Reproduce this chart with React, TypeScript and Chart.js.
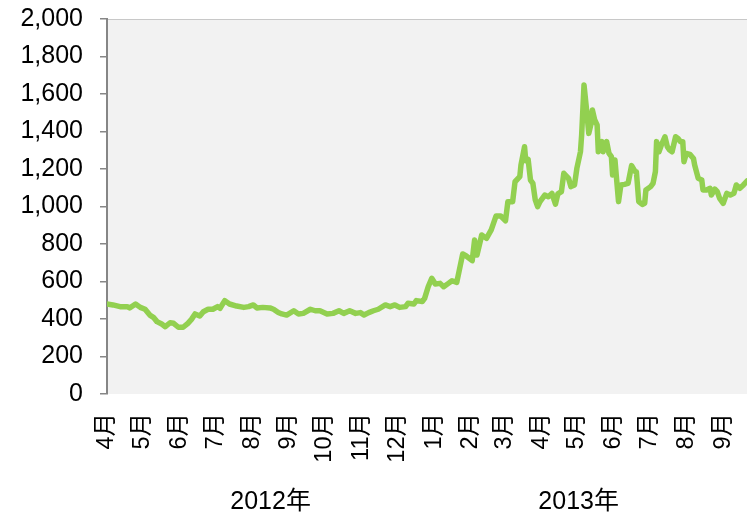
import React, { useEffect, useRef } from "react";
import { Chart, registerables } from "chart.js";

Chart.register(...registerables);

// Day offsets counted from 2012-04-01
const days = [
  0, 5, 11, 17, 19, 24, 28, 32, 36, 39, 42, 46, 49, 53, 56, 60, 64, 68, 71, 74, 78, 81, 85, 89, 93, 95, 99, 103,
  109, 115, 119, 123, 126, 131, 137, 140, 144, 147, 151, 157, 161, 165, 171, 175, 179, 185, 190, 195, 199, 204,
  209, 213, 216, 220, 224, 228, 234, 238, 242, 246, 251, 253, 258, 260, 265, 267, 270, 273, 276, 280, 283, 287,
  290, 294, 299, 302, 307, 309, 311, 315, 319, 323, 327, 331, 335, 337, 341, 343, 347, 348, 351, 352, 354, 356,
  358, 360, 362, 364, 368, 371, 374, 377, 379, 382, 384, 388, 390, 393, 395, 398, 399, 401, 403, 405, 407, 408,
  410, 412, 413, 416, 417, 420, 422, 424, 425, 427, 430, 432, 435, 438, 441, 444, 445, 447, 450, 452, 453, 457,
  459, 461, 462, 464, 466, 469, 471, 473, 475, 478, 480, 482, 484, 485, 487, 490, 493, 494, 497, 500, 501, 504,
  507, 508, 511, 513, 515, 518, 521, 524, 527, 529, 532, 535, 538,
];

const prices = [
  480, 475, 466, 466, 459, 480, 462, 452, 421, 409, 386, 373, 359, 380, 377, 356, 356, 377, 398, 427, 416, 439, 452, 452, 466, 457, 498, 480,
  469, 462, 466, 475, 459, 462, 459, 452, 435, 427, 421, 444, 427, 430, 452, 444, 444, 427, 430, 444, 430, 444,
  430, 434, 421, 434, 444, 452, 475, 466, 475, 462, 466, 484, 480, 498, 493, 510, 572, 617, 587, 590, 572, 590,
  604, 595, 747, 736, 711, 821, 741, 848, 830, 875, 949, 949, 924, 1026, 1026, 1132, 1159, 1221, 1319, 1244, 1251, 1141,
  1123, 1035, 999, 1026, 1061, 1052, 1070, 1013, 1067, 1079, 1177, 1150, 1106, 1115, 1204, 1292, 1381, 1648, 1524, 1390, 1443, 1515,
  1461, 1435, 1292, 1346, 1292, 1346, 1283, 1266, 1168, 1248, 1026, 1115, 1118, 1123, 1218, 1186, 1186, 1026, 1011, 1017, 1088, 1106,
  1123, 1186, 1346, 1292, 1328, 1372, 1319, 1301, 1292, 1372, 1363, 1346, 1346, 1239, 1283, 1278, 1256, 1221, 1150, 1141, 1088, 1088,
  1097, 1061, 1093, 1079, 1043, 1017, 1070, 1061, 1070, 1115, 1097, 1115, 1136,
];

const monthTickDays = [0, 30, 61, 91, 122, 153, 183, 214, 244, 275, 306, 334, 365, 395, 426, 456, 487, 518];
const monthLabels = ["4月", "5月", "6月", "7月", "8月", "9月", "10月", "11月", "12月", "1月", "2月", "3月", "4月", "5月", "6月", "7月", "8月", "9月"];

const yearLabels = ["2012年", "2013年"];
const yearSpanStart = [0, 275];
const yearSpanEnd = [275, 518];

const yTicksMin = 0;
const yTicksMax = 2000;
const yTicksStep = 200;
const xMax = 538;

const FONT = '"Liberation Sans", Arial, "Noto Sans CJK JP", sans-serif';

const backgroundPlugin = {
  id: "plotBg",
  beforeDraw(chart: any) {
    const { ctx, chartArea } = chart;
    const { left, top, right, bottom } = chartArea;
    ctx.save();
    ctx.fillStyle = "#ffffff";
    ctx.fillRect(0, 0, chart.width, chart.height);
    ctx.fillStyle = "#F2F2F2";
    ctx.fillRect(left, top, right - left, bottom - top);
    ctx.strokeStyle = "#C8C8C8";
    ctx.lineWidth = 1;
    ctx.beginPath();
    ctx.moveTo(left, top + 0.5);
    ctx.lineTo(right, top + 0.5);
    ctx.stroke();
    ctx.restore();
  },
};

const yearLabelPlugin = {
  id: "yearLabels",
  afterDraw(chart: any) {
    const { ctx, chartArea } = chart;
    const xs = chart.scales.x;
    ctx.save();
    ctx.font = `25px ${FONT}`;
    ctx.fillStyle = "#000";
    ctx.textAlign = "center";
    ctx.textBaseline = "middle";
    yearLabels.forEach((lab, i) => {
      const cx = xs.getPixelForValue((yearSpanStart[i] + yearSpanEnd[i]) / 2);
      ctx.fillText(lab, cx, chartArea.bottom + 108);
    });
    ctx.restore();
  },
};

export default function App() {
  const ref = useRef<HTMLCanvasElement>(null);

  useEffect(() => {
    if (!ref.current) return;
    const chart = new Chart(ref.current, {
      type: "line",
      data: {
        datasets: [
          {
            data: days.map((d, i) => ({ x: d, y: prices[i] })),
            borderColor: "#92D050",
            borderWidth: 5.5,
            pointRadius: 0,
            tension: 0,
            borderJoinStyle: "round",
            borderCapStyle: "round",
            fill: false,
          },
        ],
      },
      options: {
        responsive: false,
        devicePixelRatio: 1,
        animation: false,
        layout: { padding: { top: 19, left: 0, right: 0, bottom: 0 } },
        plugins: { legend: { display: false }, tooltip: { enabled: false } },
        scales: {
          x: {
            type: "linear",
            min: 0,
            max: xMax,
            afterBuildTicks: (s: any) => {
              s.ticks = monthTickDays.map((v) => ({ value: v }));
            },
            afterFit: (s: any) => {
              s.height = 119;
              s.paddingLeft = 0;
              s.paddingRight = 0;
            },
            ticks: {
              autoSkip: false,
              minRotation: 90,
              maxRotation: 90,
              padding: 19,
              color: "#000",
              font: { size: 23.5, family: FONT },
              callback: (v: any) => {
                const idx = monthTickDays.indexOf(Number(v));
                return idx >= 0 ? monthLabels[idx] : "";
              },
            },
            grid: { display: false, drawTicks: false },
            border: { display: false },
          },
          y: {
            min: yTicksMin,
            max: yTicksMax,
            afterFit: (s: any) => {
              s.width = 107;
              s.paddingTop = 0;
              s.paddingBottom = 0;
            },
            ticks: {
              stepSize: yTicksStep,
              padding: 17,
              color: "#000",
              font: { size: 25, family: FONT },
              callback: (v: any) => Number(v).toLocaleString("en-US"),
            },
            grid: {
              drawOnChartArea: false,
              drawTicks: true,
              tickLength: 7,
              color: "#868686",
              lineWidth: 1.5,
            },
            border: { display: true, color: "#868686", width: 2 },
          },
        },
      },
      plugins: [backgroundPlugin, yearLabelPlugin],
    } as any);
    return () => chart.destroy();
  }, []);

  return (
    <div style={{ position: "fixed", left: 0, top: 0, width: 747, height: 513, background: "#fff" }}>
      <canvas ref={ref} width={747} height={513} style={{ display: "block" }} />
    </div>
  );
}
